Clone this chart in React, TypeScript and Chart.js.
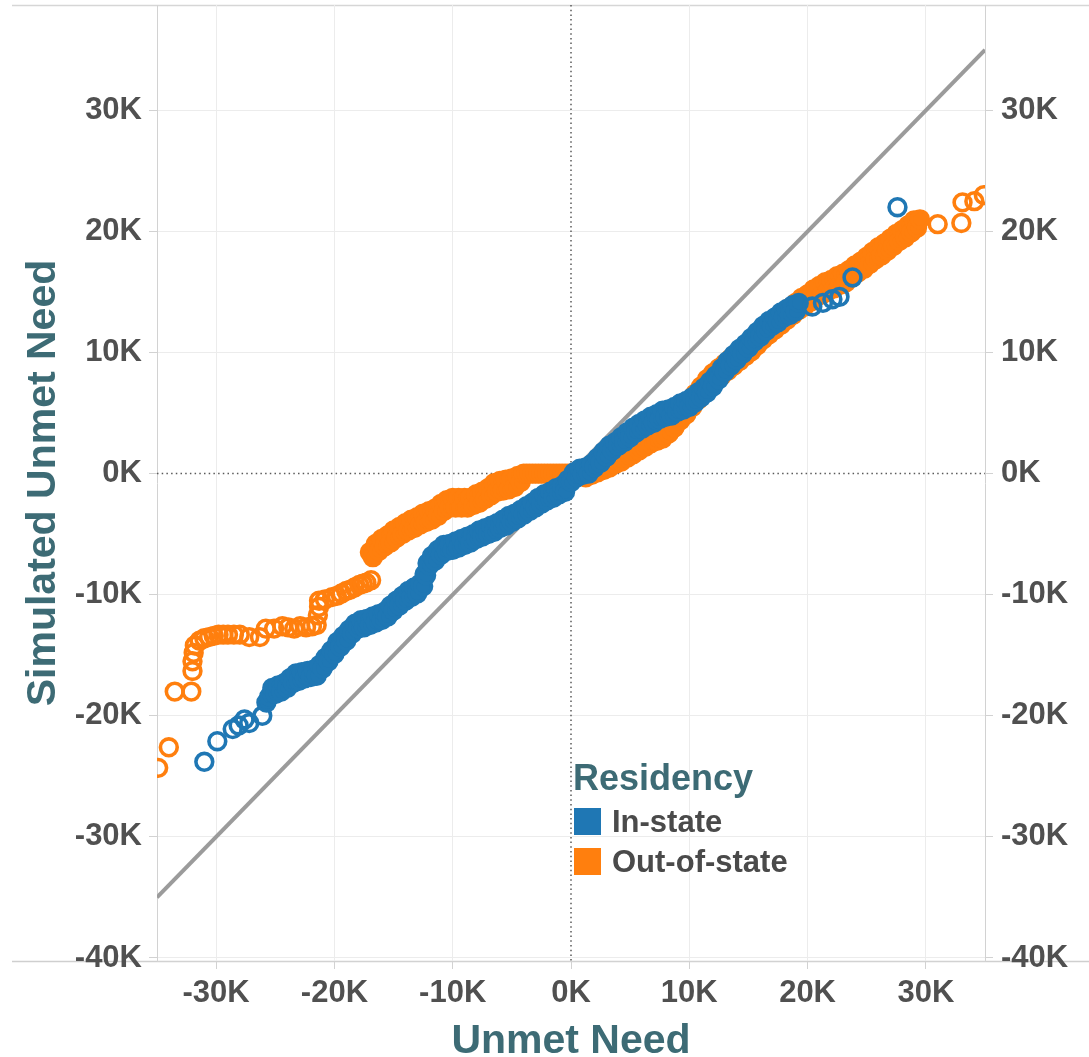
import React, { useEffect, useRef } from "react";
import { Chart, registerables } from "chart.js";

Chart.register(...registerables);

// ---- Data (values in thousands of dollars) ----
// Sparse low tail of In-state points
const inStateLowTail: [number, number][] = [
  [-31.0, -23.8], [-29.9, -22.1], [-28.6, -21.1], [-28.1, -20.8], [-27.6, -20.3], [-27.2, -20.6], [-26.1, -20.0],
];

// Dense (heavily overlapping) In-state points
const inStateCore: [number, number][] = [
  [-25.75, -18.9], [-25.5, -18.4], [-25.25, -17.7], [-25.0, -18.2], [-24.75, -17.5], [-24.5, -18.0], [-24.25, -17.3],
  [-24.0, -17.7], [-23.75, -16.9], [-23.5, -17.3], [-23.25, -16.5], [-23.0, -17.1], [-22.75, -16.4], [-22.5, -16.9],
  [-22.25, -16.3], [-22.0, -16.8], [-21.75, -16.2], [-21.5, -16.7], [-21.25, -15.8], [-21.0, -16.1], [-20.75, -15.2],
  [-20.5, -15.5], [-20.25, -14.6], [-20.0, -14.9], [-19.75, -13.9], [-19.5, -14.3], [-19.25, -13.4], [-19.0, -13.8],
  [-18.75, -12.9], [-18.5, -13.2], [-18.25, -12.4], [-18.0, -12.8], [-17.75, -12.1], [-17.5, -12.7], [-17.25, -12.0],
  [-17.0, -12.5], [-16.75, -11.8], [-16.5, -12.3], [-16.25, -11.6], [-16.0, -12.1], [-15.75, -11.4], [-15.5, -11.8],
  [-15.25, -10.9], [-15.0, -11.3], [-14.75, -10.5], [-14.5, -10.9], [-14.25, -10.1], [-14.0, -10.5], [-13.75, -9.7],
  [-13.5, -10.2], [-13.25, -9.4], [-13.0, -9.9], [-12.75, -9.1], [-12.5, -9.3], [-12.375, -8.3], [-12.25, -8.4],
  [-12.125, -7.4], [-12.0, -7.6], [-11.75, -6.8], [-11.5, -7.2], [-11.25, -6.3], [-11.0, -6.7], [-10.75, -5.9],
  [-10.5, -6.4], [-10.25, -5.8], [-10.0, -6.3], [-9.75, -5.6], [-9.5, -6.1], [-9.25, -5.4], [-9.0, -5.9],
  [-8.75, -5.2], [-8.5, -5.7], [-8.25, -5.0], [-8.0, -5.4], [-7.75, -4.7], [-7.5, -5.2], [-7.25, -4.5],
  [-7.0, -5.0], [-6.75, -4.3], [-6.5, -4.8], [-6.25, -4.1], [-6.0, -4.5], [-5.75, -3.8], [-5.5, -4.3],
  [-5.25, -3.5], [-5.0, -4.0], [-4.75, -3.3], [-4.5, -3.7], [-4.25, -3.0], [-4.0, -3.4], [-3.75, -2.7],
  [-3.5, -3.1], [-3.25, -2.4], [-3.0, -2.8], [-2.75, -2.0], [-2.5, -2.5], [-2.25, -1.7], [-2.0, -2.2],
  [-1.75, -1.5], [-1.5, -2.0], [-1.25, -1.2], [-1.0, -1.7], [-0.75, -1.0], [-0.5, -1.5], [-0.25, -0.5],
  [0.0, -0.7], [0.25, 0.1], [0.5, -0.3], [0.75, 0.4], [1.0, -0.1], [1.25, 0.5], [1.5, 0.0], [1.75, 0.8],
  [2.0, 0.5], [2.25, 1.3], [2.5, 0.9], [2.75, 1.8], [3.0, 1.4], [3.25, 2.3], [3.5, 1.9], [3.75, 2.6],
  [4.0, 2.3], [4.25, 3.0], [4.5, 2.6], [4.75, 3.4], [5.0, 3.0], [5.25, 3.8], [5.5, 3.4], [5.75, 4.1],
  [6.0, 3.7], [6.25, 4.4], [6.5, 4.0], [6.75, 4.7], [7.0, 4.2], [7.25, 4.9], [7.5, 4.5], [7.75, 5.2],
  [8.0, 4.7], [8.25, 5.3], [8.5, 4.8], [8.75, 5.5], [9.0, 5.1], [9.25, 5.8], [9.5, 5.3], [9.75, 6.0],
  [10.0, 5.5], [10.25, 6.3], [10.5, 5.9], [10.75, 6.7], [11.0, 6.3], [11.25, 7.1], [11.5, 6.7], [11.75, 7.6],
  [12.0, 7.2], [12.25, 8.1], [12.5, 7.8], [12.75, 8.7], [13.0, 8.4], [13.25, 9.3], [13.5, 8.9], [13.75, 9.8],
  [14.0, 9.4], [14.25, 10.3], [14.5, 9.9], [14.75, 10.7], [15.0, 10.4], [15.25, 11.2], [15.5, 10.9], [15.75, 11.7],
  [16.0, 11.3], [16.25, 12.2], [16.5, 11.8], [16.75, 12.6], [17.0, 12.2], [17.25, 12.9], [17.5, 12.5], [17.75, 13.3],
  [18.0, 12.9], [18.25, 13.6], [18.5, 13.1], [18.75, 13.9], [19.0, 13.4], [19.25, 14.1],
];

// Sparse high tail of In-state points
const inStateHighTail: [number, number][] = [
  [20.4, 13.8], [21.3, 14.1], [22.1, 14.4], [22.7, 14.6], [23.8, 16.2], [27.6, 22.0],
];

// Sparse low tail of Out-of-state points
const outOfStateLowTail: [number, number][] = [
  [-34.9, -24.3], [-34.0, -22.6], [-33.5, -18.0], [-32.1, -18.0], [-32.0, -16.3], [-32.0, -15.5], [-31.9, -14.8],
  [-31.8, -14.2], [-31.4, -13.8], [-31.0, -13.6], [-30.6, -13.5], [-30.2, -13.4], [-29.8, -13.3], [-29.4, -13.3],
  [-29.0, -13.3], [-28.5, -13.3], [-28.0, -13.3], [-27.2, -13.5], [-26.3, -13.5], [-25.8, -12.8], [-25.1, -12.8],
  [-24.4, -12.6], [-23.9, -12.7], [-23.4, -12.8], [-22.9, -12.6], [-22.4, -12.7], [-21.9, -12.6], [-21.5, -12.5],
  [-21.4, -11.7], [-21.3, -11.0], [-21.3, -10.5], [-20.8, -10.4], [-20.2, -10.2], [-19.8, -10.1], [-19.4, -9.9],
  [-19.0, -9.7], [-18.7, -9.6], [-18.3, -9.4], [-17.9, -9.2], [-17.6, -9.1], [-17.3, -9.0], [-16.9, -8.8],
];

// Dense (heavily overlapping) Out-of-state points
const outOfStateCore: [number, number][] = [
  [-17.0, -6.5], [-16.75, -6.9], [-16.5, -5.8], [-16.25, -6.4], [-16.0, -5.4], [-15.75, -6.0], [-15.5, -5.1],
  [-15.25, -5.7], [-15.0, -4.7], [-14.75, -5.3], [-14.5, -4.4], [-14.25, -5.0], [-14.0, -4.1], [-13.75, -4.7],
  [-13.5, -3.8], [-13.25, -4.5], [-13.0, -3.6], [-12.75, -4.2], [-12.5, -3.3], [-12.25, -4.0], [-12.0, -3.1],
  [-11.75, -3.8], [-11.5, -2.9], [-11.25, -3.5], [-11.0, -2.5], [-10.75, -3.1], [-10.5, -2.2], [-10.25, -2.8],
  [-10.0, -2.0], [-9.75, -2.8], [-9.5, -2.0], [-9.25, -2.8], [-9.0, -2.0], [-8.75, -2.8], [-8.5, -2.0],
  [-8.25, -2.6], [-8.0, -1.7], [-7.75, -2.4], [-7.5, -1.5], [-7.25, -2.1], [-7.0, -1.2], [-6.75, -1.8],
  [-6.5, -0.8], [-6.25, -1.5], [-6.0, -0.6], [-5.75, -1.4], [-5.5, -0.5], [-5.25, -1.3], [-5.0, -0.4],
  [-4.75, -1.1], [-4.5, -0.2], [-4.25, -0.7],
  [-4.0, 0], [-3.75, 0], [-3.5, 0], [-3.25, 0], [-3.0, 0], [-2.75, 0], [-2.5, 0], [-2.25, 0], [-2.0, 0],
  [-1.75, 0], [-1.5, 0], [-1.25, 0], [-1.0, 0], [-0.75, 0], [-0.5, 0], [-0.25, 0], [0.0, 0], [0.25, 0],
  [0.5, 0], [0.75, 0],
  [1.0, 0.4], [1.25, -0.3], [1.5, 0.6], [1.75, -0.1], [2.0, 0.8], [2.25, 0.1], [2.5, 1.0], [2.75, 0.3],
  [3.0, 1.2], [3.25, 0.5], [3.5, 1.5], [3.75, 0.8], [4.0, 1.7], [4.25, 1.0], [4.5, 2.0], [4.75, 1.3],
  [5.0, 2.3], [5.25, 1.6], [5.5, 2.6], [5.75, 1.9], [6.0, 2.9], [6.25, 2.2], [6.5, 3.1], [6.75, 2.5],
  [7.0, 3.4], [7.25, 2.7], [7.5, 3.6], [7.75, 2.9], [8.0, 3.9], [8.25, 3.3], [8.5, 4.3], [8.75, 3.8],
  [9.0, 4.9], [9.25, 4.4], [9.5, 5.5], [9.75, 4.9], [10.0, 6.0], [10.25, 5.5], [10.5, 6.6], [10.75, 6.1],
  [11.0, 7.2], [11.25, 6.7], [11.5, 7.8], [11.75, 7.2], [12.0, 8.3], [12.25, 7.7], [12.5, 8.7], [12.75, 8.1],
  [13.0, 9.1], [13.25, 8.5], [13.5, 9.5], [13.75, 8.9], [14.0, 9.9], [14.25, 9.3], [14.5, 10.3], [14.75, 9.7],
  [15.0, 10.7], [15.25, 10.1], [15.5, 11.2], [15.75, 10.6], [16.0, 11.6], [16.25, 11.1], [16.5, 12.1], [16.75, 11.5],
  [17.0, 12.5], [17.25, 11.9], [17.5, 12.9], [17.75, 12.3], [18.0, 13.3], [18.25, 12.7], [18.5, 13.7], [18.75, 13.1],
  [19.0, 14.1], [19.25, 13.5], [19.5, 14.5], [19.75, 13.8], [20.0, 14.8], [20.25, 14.2], [20.5, 15.2], [20.75, 14.6],
  [21.0, 15.5], [21.25, 14.8], [21.5, 15.8], [21.75, 15.1], [22.0, 16.0], [22.25, 15.3], [22.5, 16.3], [22.75, 15.6],
  [23.0, 16.5], [23.25, 15.8], [23.5, 16.8], [23.75, 16.2], [24.0, 17.2], [24.25, 16.6], [24.5, 17.5], [24.75, 16.9],
  [25.0, 17.9], [25.25, 17.3], [25.5, 18.3], [25.75, 17.7], [26.0, 18.7], [26.25, 18.0], [26.5, 19.0], [26.75, 18.4],
  [27.0, 19.4], [27.25, 18.8], [27.5, 19.8], [27.75, 19.2], [28.0, 20.1], [28.25, 19.5], [28.5, 20.5], [28.75, 19.9],
  [29.0, 20.9], [29.25, 20.3], [29.5, 21.0],
];

// Sparse high tail of Out-of-state points
const outOfStateHighTail: [number, number][] = [
  [31.0, 20.6], [33.0, 20.7], [33.1, 22.4], [34.1, 22.5], [34.9, 23.0],
];

const referenceLineX = [-35, 35];
const referenceLineY = [-35, 35];

const xTickValues = [-30, -20, -10, 0, 10, 20, 30];
const yTickValues = [-40, -30, -20, -10, 0, 10, 20, 30];

const xRange = [-35, 35];
const yRange = [-40.25, 38.7];

const legendTitle = "Residency";
const seriesNames = ["In-state", "Out-of-state"];
const seriesColors = ["#1f77b4", "#ff7f0e"];

// ---- Styles ----
const FONT = '"Liberation Sans", Arial, sans-serif';
const TICK_COLOR = "#505050";
const TITLE_COLOR = "#3d6b75";
const GRID_COLOR = "#ececec";
const AXIS_COLOR = "#d2d2d2";
const CLEAR = "rgba(0,0,0,0)";

const tickLabel = (v: number | string) => `${v}K`;

const framePlugin = {
  id: "frameAndLegend",
  beforeDraw(chart: any) {
    const { ctx, chartArea, width } = chart;
    ctx.save();
    ctx.strokeStyle = "#d6d6d6";
    ctx.lineWidth = 1.5;
    ctx.beginPath();
    ctx.moveTo(12, chartArea.top + 0.5);
    ctx.lineTo(width, chartArea.top + 0.5);
    ctx.stroke();
    ctx.beginPath();
    ctx.strokeStyle = "#cfcfcf";
    ctx.moveTo(12, chartArea.bottom + 0.5);
    ctx.lineTo(width, chartArea.bottom + 0.5);
    ctx.stroke();
    ctx.restore();
  },
  beforeDatasetsDraw(chart: any) {
    const { ctx, chartArea, scales } = chart;
    const x0 = scales.x.getPixelForValue(0);
    const y0 = scales.y.getPixelForValue(0);
    ctx.save();
    ctx.strokeStyle = "#5a5a5a";
    ctx.lineWidth = 1.5;
    ctx.setLineDash([1.5, 3.2]);
    ctx.beginPath();
    ctx.moveTo(x0, chartArea.top);
    ctx.lineTo(x0, chartArea.bottom);
    ctx.moveTo(chartArea.left, y0);
    ctx.lineTo(chartArea.right, y0);
    ctx.stroke();
    ctx.restore();
  },
  afterDraw(chart: any) {
    const { ctx, chartArea, scales } = chart;
    const lx = scales.x.getPixelForValue(0) + 3;
    const top = chartArea.top;
    ctx.save();
    ctx.textAlign = "left";
    ctx.textBaseline = "alphabetic";
    ctx.fillStyle = TITLE_COLOR;
    ctx.font = `bold 36px ${FONT}`;
    ctx.fillText(legendTitle, lx - 1, top + 785);
    ctx.font = `bold 31px ${FONT}`;
    seriesNames.forEach((name, i) => {
      const sy = top + 803 + i * 40;
      ctx.fillStyle = seriesColors[i];
      ctx.fillRect(lx, sy, 27, 27);
      ctx.fillStyle = "#4a4a4a";
      ctx.fillText(name, lx + 38, sy + 24);
    });
    ctx.restore();
  },
};

const toXY = (pts: [number, number][]) => pts.map(([x, y]) => ({ x, y }));

// Interior of heavily overlapping markers is saturated; sparse tails stay hollow.
const fills = (low: unknown[], core: unknown[], high: unknown[], color: string) => [
  ...low.map(() => CLEAR),
  ...core.map(() => color),
  ...high.map(() => CLEAR),
];

export default function App() {
  const canvasRef = useRef<HTMLCanvasElement | null>(null);

  useEffect(() => {
    if (!canvasRef.current) return;
    Chart.defaults.font.family = FONT;

    const tickFont = { family: FONT, size: 31, weight: "bold" as const };
    const gridColor = (c: any) => (c.tick && c.tick.value === 0 ? CLEAR : GRID_COLOR);
    const markerStyle = {
      pointRadius: 8.4,
      pointBorderWidth: 3.6,
      pointStyle: "circle",
      clip: 0,
    };

    const chart = new Chart(canvasRef.current, {
      type: "scatter",
      data: {
        datasets: [
          {
            label: seriesNames[0],
            data: toXY([...inStateLowTail, ...inStateCore, ...inStateHighTail]),
            borderColor: seriesColors[0],
            backgroundColor: seriesColors[0],
            pointBackgroundColor: fills(inStateLowTail, inStateCore, inStateHighTail, seriesColors[0]),
            order: 1,
            ...markerStyle,
          } as any,
          {
            label: seriesNames[1],
            data: toXY([...outOfStateLowTail, ...outOfStateCore, ...outOfStateHighTail]),
            borderColor: seriesColors[1],
            backgroundColor: seriesColors[1],
            pointBackgroundColor: fills(outOfStateLowTail, outOfStateCore, outOfStateHighTail, seriesColors[1]),
            order: 2,
            ...markerStyle,
          } as any,
          {
            label: "Reference",
            type: "line",
            data: referenceLineX.map((x, i) => ({ x, y: referenceLineY[i] })),
            borderColor: "#9b9b9b",
            borderWidth: 4,
            pointRadius: 0,
            order: 3,
            clip: 0,
          } as any,
        ],
      },
      options: {
        responsive: false,
        animation: false,
        events: [],
        layout: { autoPadding: false, padding: { top: 5, left: 0, right: 0, bottom: 0 } },
        plugins: { legend: { display: false }, tooltip: { enabled: false } },
        scales: {
          x: {
            type: "linear",
            position: "bottom",
            min: xRange[0],
            max: xRange[1],
            afterBuildTicks: (s: any) => {
              s.ticks = xTickValues.map((value) => ({ value }));
            },
            afterFit: (s: any) => {
              s.height = 96;
              s.paddingLeft = 0;
              s.paddingRight = 0;
            },
            grid: { color: gridColor, lineWidth: 1, tickLength: 8, tickColor: AXIS_COLOR, tickWidth: 1 },
            border: { display: true, color: AXIS_COLOR, width: 1 },
            ticks: { font: tickFont, color: TICK_COLOR, padding: 6, maxRotation: 0, callback: tickLabel },
            title: {
              display: true,
              text: "Unmet Need",
              color: TITLE_COLOR,
              font: { family: FONT, size: 41, weight: "bold", lineHeight: 0.73 },
              padding: 0,
            },
          },
          y: {
            type: "linear",
            position: "left",
            min: yRange[0],
            max: yRange[1],
            afterBuildTicks: (s: any) => {
              s.ticks = yTickValues.map((value) => ({ value }));
            },
            afterFit: (s: any) => {
              s.width = 157;
              s.paddingTop = 0;
              s.paddingBottom = 0;
            },
            grid: { color: gridColor, lineWidth: 1, tickLength: 8, tickColor: AXIS_COLOR, tickWidth: 1 },
            border: { display: true, color: AXIS_COLOR, width: 1 },
            ticks: { font: tickFont, color: TICK_COLOR, padding: 7, callback: tickLabel },
            title: {
              display: true,
              text: "Simulated Unmet Need",
              color: TITLE_COLOR,
              font: { family: FONT, size: 41, weight: "bold" },
              padding: { top: 19, bottom: 0 },
            },
          },
          y2: {
            type: "linear",
            position: "right",
            display: true,
            min: yRange[0],
            max: yRange[1],
            afterBuildTicks: (s: any) => {
              s.ticks = yTickValues.map((value) => ({ value }));
            },
            afterFit: (s: any) => {
              s.width = 104;
              s.paddingTop = 0;
              s.paddingBottom = 0;
            },
            grid: { drawOnChartArea: false, tickLength: 8, tickColor: AXIS_COLOR, tickWidth: 1 },
            border: { display: true, color: AXIS_COLOR, width: 1 },
            ticks: { font: tickFont, color: TICK_COLOR, padding: 8, callback: tickLabel },
          },
        },
      },
      plugins: [framePlugin],
    });

    return () => chart.destroy();
  }, []);

  return (
    <div style={{ position: "absolute", left: 0, top: 0, width: 1089, height: 1057, background: "#fff" }}>
      <canvas ref={canvasRef} width={1089} height={1057} style={{ display: "block" }} />
    </div>
  );
}
